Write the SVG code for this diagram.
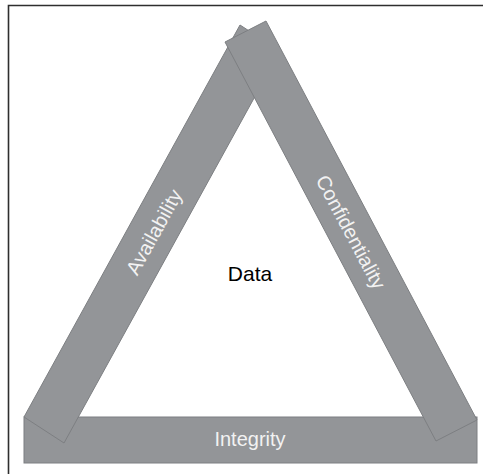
<svg xmlns="http://www.w3.org/2000/svg" width="483" height="474" viewBox="0 0 483 474">
<style>
.bar{fill:#939598;stroke:#7d7f82;stroke-width:1}
.lbl{font-family:"Liberation Sans",Arial,sans-serif;font-size:20px;fill:#f2f2f2;text-anchor:middle}
.center{font-family:"Liberation Sans",Arial,sans-serif;font-size:21px;fill:#000;text-anchor:middle}
</style>
<rect width="483" height="474" fill="#fff"/>
<path d="M8.5 474 V5.5 H483" fill="none" stroke="#2e2e2e" stroke-width="1.6"/>
<g id="integrity">
<rect class="bar" x="24" y="417" width="453" height="46"/>
<text class="lbl" x="250" y="446">Integrity</text>
</g>
<g id="availability">
<polygon class="bar" points="24,417 64,443 280,51 240,25"/>
<text class="lbl" transform="translate(154,232) rotate(-61)" x="0" y="7">Availability</text>
</g>
<g id="confidentiality">
<polygon class="bar" points="225,42 266,21 477,420 436,441"/>
<text class="lbl" transform="translate(351,232) rotate(62)" x="0" y="7">Confidentiality</text>
</g>
<g id="data">
<text class="center" x="250" y="281">Data</text>
</g>
<g id="connectors"></g>
</svg>
